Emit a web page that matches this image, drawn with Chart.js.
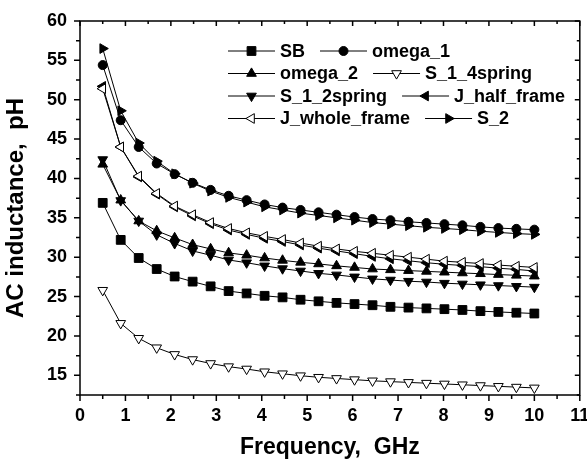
<!DOCTYPE html>
<html>
<head>
<meta charset="utf-8">
<script src="https://cdn.jsdelivr.net/npm/chart.js@4.4.0/dist/chart.umd.min.js"></script>
<style>
html,body{margin:0;padding:0;background:#fff;}
#wrap{width:587px;height:466px;}
</style>
</head>
<body>
<div id="wrap"><canvas id="c" width="587" height="466"></canvas></div>
<script>
// ---- data ----
const frequency = [0.5, 0.896, 1.292, 1.688, 2.083, 2.479, 2.875, 3.271, 3.667, 4.063, 4.458, 4.854, 5.25, 5.646, 6.042, 6.438, 6.833, 7.229, 7.625, 8.021, 8.417, 8.813, 9.208, 9.604, 10];
const SB            = [36.9, 32.2, 29.9, 28.5, 27.55, 26.9, 26.3, 25.7, 25.4, 25.1, 24.9, 24.6, 24.4, 24.2, 24.05, 23.9, 23.7, 23.6, 23.5, 23.4, 23.3, 23.15, 23.05, 22.95, 22.85];
const omega_1       = [54.4, 47.4, 44.0, 41.9, 40.55, 39.45, 38.55, 37.8, 37.25, 36.7, 36.3, 36.0, 35.7, 35.4, 35.1, 34.85, 34.7, 34.5, 34.35, 34.2, 34.05, 33.85, 33.7, 33.6, 33.5];
const omega_2       = [41.8, 37.25, 34.6, 33.35, 32.45, 31.6, 31.05, 30.55, 30.25, 29.9, 29.6, 29.35, 29.15, 28.9, 28.7, 28.5, 28.4, 28.3, 28.2, 28.1, 28.0, 27.9, 27.8, 27.7, 27.6];
const S_1_4spring   = [25.8, 21.6, 19.7, 18.5, 17.65, 17.0, 16.5, 16.1, 15.8, 15.45, 15.2, 14.95, 14.75, 14.6, 14.45, 14.3, 14.2, 14.1, 14.0, 13.9, 13.8, 13.7, 13.6, 13.5, 13.4];
const S_1_2spring   = [42.4, 37.2, 34.6, 32.85, 31.75, 30.8, 30.25, 29.65, 29.3, 28.9, 28.55, 28.25, 27.95, 27.75, 27.5, 27.25, 27.1, 26.95, 26.85, 26.7, 26.6, 26.5, 26.4, 26.3, 26.2];
const J_half_frame  = [51.7, 44.0, 40.2, 38.0, 36.4, 35.25, 34.25, 33.45, 32.9, 32.4, 32.0, 31.55, 31.15, 30.8, 30.45, 30.1, 29.8, 29.55, 29.3, 29.1, 28.95, 28.8, 28.6, 28.45, 28.25];
const J_whole_frame = [51.4, 44.0, 40.3, 38.1, 36.5, 35.4, 34.4, 33.65, 33.1, 32.65, 32.25, 31.8, 31.4, 31.05, 30.75, 30.5, 30.25, 30.0, 29.75, 29.5, 29.35, 29.2, 29.0, 28.85, 28.7];
const S_2           = [56.5, 48.6, 44.5, 42.2, 40.6, 39.4, 38.4, 37.6, 37.0, 36.4, 36.0, 35.6, 35.3, 35.0, 34.7, 34.4, 34.2, 34.0, 33.8, 33.65, 33.5, 33.3, 33.15, 33.0, 32.9];

const seriesNames = ['SB', 'omega_1', 'omega_2', 'S_1_4spring', 'S_1_2spring', 'J_half_frame', 'J_whole_frame', 'S_2'];
const seriesValues = [SB, omega_1, omega_2, S_1_4spring, S_1_2spring, J_half_frame, J_whole_frame, S_2];

const xTickValues = [0, 1, 2, 3, 4, 5, 6, 7, 8, 9, 10, 11];
const xMinorTicks = [0.5, 1.5, 2.5, 3.5, 4.5, 5.5, 6.5, 7.5, 8.5, 9.5, 10.5];
const yTickValues = [15, 20, 25, 30, 35, 40, 45, 50, 55, 60];
const yMinorTicks = [12.5, 17.5, 22.5, 27.5, 32.5, 37.5, 42.5, 47.5, 52.5, 57.5];
const xTitle = 'Frequency,  GHz';
const yTitle = 'AC inductance,  pH';

// ---- styles ----
const FONT = '"Liberation Sans", Arial, Helvetica, sans-serif';
const markerStyles = {
  'SB':            {style: 'rect',     rot: 0,   r: 6.2, fill: '#000'},
  'omega_1':       {style: 'circle',   rot: 0,   r: 4.5, fill: '#000'},
  'omega_2':       {style: 'triangle', rot: 0,   r: 5.6, fill: '#000'},
  'S_1_4spring':   {style: 'triangle', rot: 180, r: 5.6, fill: '#fff'},
  'S_1_2spring':   {style: 'triangle', rot: 180, r: 5.6, fill: '#000'},
  'J_half_frame':  {style: 'triangle', rot: 270, r: 5.6, fill: '#000'},
  'J_whole_frame': {style: 'triangle', rot: 270, r: 5.6, fill: '#fff'},
  'S_2':           {style: 'triangle', rot: 90,  r: 5.6, fill: '#000'}
};
const drawOrder = {'J_whole_frame': -1};

const datasets = seriesNames.map((name, i) => {
  const m = markerStyles[name];
  return {
    label: name,
    data: frequency.map((f, k) => ({x: f, y: seriesValues[i][k]})),
    borderColor: '#000',
    borderWidth: 1,
    pointStyle: m.style,
    pointRotation: m.rot,
    pointRadius: m.r,
    pointBackgroundColor: m.fill,
    pointBorderColor: '#000',
    pointBorderWidth: 1,
    tension: 0,
    fill: false,
    order: drawOrder[name] || 0
  };
});

function drawMarker(ctx, m, x, y) {
  ctx.fillStyle = m.fill;
  ctx.strokeStyle = '#000';
  ctx.lineWidth = 1;
  if (Chart.helpers && Chart.helpers.drawPoint) {
    Chart.helpers.drawPoint(ctx, {pointStyle: m.style, rotation: m.rot, radius: m.r, borderWidth: 1}, x, y);
  }
}

const frameTicks = {
  id: 'frameTicks',
  afterDraw(chart) {
    const {ctx, chartArea: a, scales: {x, y}} = chart;
    ctx.save();
    ctx.strokeStyle = '#000';
    ctx.lineWidth = 1.5;
    ctx.strokeRect(a.left, a.top, a.right - a.left, a.bottom - a.top);
    ctx.beginPath();
    const major = 6, minor = 4, majIn = 5, minIn = 3;
    xTickValues.forEach(v => {
      const px = x.getPixelForValue(v);
      ctx.moveTo(px, a.bottom); ctx.lineTo(px, a.bottom + major);
      ctx.moveTo(px, a.top); ctx.lineTo(px, a.top + majIn);
    });
    xMinorTicks.forEach(v => {
      const px = x.getPixelForValue(v);
      ctx.moveTo(px, a.bottom); ctx.lineTo(px, a.bottom + minor);
      ctx.moveTo(px, a.top); ctx.lineTo(px, a.top + minIn);
    });
    yTickValues.forEach(v => {
      const py = y.getPixelForValue(v);
      ctx.moveTo(a.left - major, py); ctx.lineTo(a.left, py);
      ctx.moveTo(a.right - majIn, py); ctx.lineTo(a.right, py);
    });
    yMinorTicks.forEach(v => {
      const py = y.getPixelForValue(v);
      ctx.moveTo(a.left - minor, py); ctx.lineTo(a.left, py);
      ctx.moveTo(a.right - minIn, py); ctx.lineTo(a.right, py);
    });
    ctx.stroke();
    ctx.restore();
  }
};

const insideLegend = {
  id: 'insideLegend',
  afterDraw(chart) {
    const {ctx, chartArea: a} = chart;
    ctx.save();
    ctx.font = 'bold 18px ' + FONT;
    ctx.textBaseline = 'middle';
    const x0 = a.left + 148, y0 = a.top + 30, rowH = 22.5, lineLen = 47, gapText = 5, gapItem = 15;
    for (let r = 0; r < 4; r++) {
      let xs = x0;
      const yy = y0 + r * rowH;
      for (let c = 0; c < 2; c++) {
        const name = seriesNames[r * 2 + c];
        const m = markerStyles[name];
        ctx.strokeStyle = '#000';
        ctx.lineWidth = 1;
        ctx.beginPath();
        ctx.moveTo(xs, yy); ctx.lineTo(xs + lineLen, yy);
        ctx.stroke();
        drawMarker(ctx, m, xs + lineLen / 2, yy);
        ctx.fillStyle = '#000';
        const tx = xs + lineLen + gapText;
        ctx.fillText(name, tx, yy + 1);
        xs = tx + ctx.measureText(name).width + gapItem;
      }
    }
    ctx.restore();
  }
};

new Chart(document.getElementById('c'), {
  type: 'line',
  data: {datasets},
  options: {
    responsive: false,
    devicePixelRatio: 1,
    animation: false,
    layout: {padding: {top: 21, right: 7, left: 0, bottom: 0}},
    plugins: {legend: {display: false}, tooltip: {enabled: false}},
    scales: {
      x: {
        type: 'linear', min: 0, max: 11,
        afterBuildTicks: s => { s.ticks = xTickValues.map(v => ({value: v})); },
        afterFit: s => { s.height = 71; s.paddingLeft = 0; s.paddingRight = 0; },
        grid: {display: false, drawTicks: false},
        border: {display: false},
        ticks: {color: '#000', padding: 10, font: {family: FONT, size: 18, weight: 'bold'}, maxRotation: 0, autoSkip: false},
        title: {display: true, text: xTitle, color: '#000', font: {family: FONT, size: 23, weight: 'bold'}, padding: {top: 0, bottom: 5}}
      },
      y: {
        type: 'linear', min: 12.5, max: 60,
        afterBuildTicks: s => { s.ticks = yTickValues.map(v => ({value: v})); },
        afterFit: s => { s.width = 80; s.paddingTop = 0; s.paddingBottom = 0; },
        grid: {display: false, drawTicks: false},
        border: {display: false},
        ticks: {color: '#000', padding: 13, font: {family: FONT, size: 18, weight: 'bold'}, autoSkip: false},
        title: {display: true, text: yTitle, color: '#000', font: {family: FONT, size: 24, weight: 'bold'}, padding: {top: 2, bottom: 0}}
      }
    }
  },
  plugins: [frameTicks, insideLegend]
});
</script>
</body>
</html>
